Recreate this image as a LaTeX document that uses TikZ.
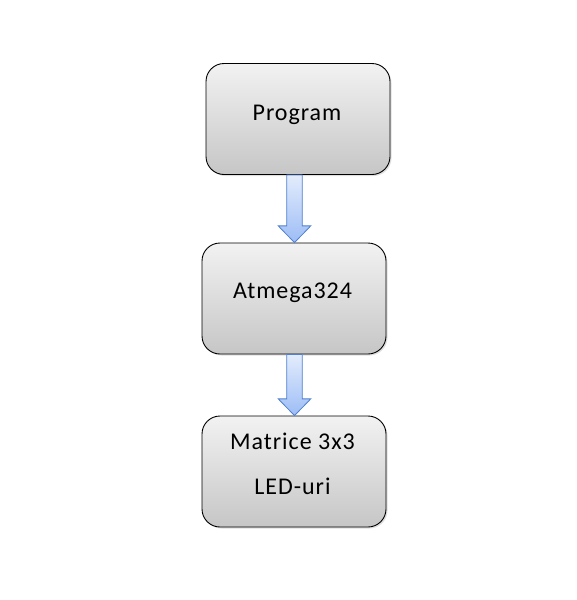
\documentclass[tikz,border=0pt]{standalone}
\usepackage{fontspec}
\setmainfont{Carlito}[LetterSpace=4]
\usetikzlibrary{calc,shadows}
\definecolor{boxtop}{HTML}{F2F2F2}
\definecolor{boxbot}{HTML}{C6C6C6}
\definecolor{arrtop}{HTML}{E3ECFC}
\definecolor{arrbot}{HTML}{9DBDF6}
\definecolor{arrline}{HTML}{4F81D0}
\tikzset{
  x=1pt,y=1pt,
  blockbox/.style={draw=black, line width=0.9pt, rounded corners=18pt,
    minimum width=184pt, minimum height=111pt, top color=boxtop, bottom color=boxbot,
    drop shadow={opacity=0.25, shadow xshift=1.5pt, shadow yshift=-1.5pt}},
  lbl/.style={font=\fontsize{24}{29}\selectfont, inner sep=0pt, anchor=base},
  blockarrow/.style={draw=arrline, line width=0.8pt, top color=arrtop, bottom color=arrbot},
}
\newcommand{\fatarrow}[3]{%
  \path[blockarrow] let \p1=(#1), \p2=(#2) in
    (#3-7.8,\y1) -- (#3+7.8,\y1) -- (#3+7.8,\y2+16.7) -- (#3+16.3,\y2+16.7)
    -- (#3,\y2) -- (#3-16.3,\y2+16.7) -- (#3-7.8,\y2+16.7) -- cycle;}
\begin{document}
\begin{tikzpicture}
\useasboundingbox[fill=white] (0,0) rectangle (576,-600);
\node[blockbox] (b1) at (298,-119) {};
\node[blockbox] (b2) at (294,-298.5) {};
\node[blockbox] (b3) at (294,-471.5) {};
\node[lbl] (t1) at (297,-120.5) {Program};
\node[lbl] (t2) at (292.5,-298.3) {Atmega324};
\node[lbl] (t3) at (292.5,-449.3) {Matrice 3x3};
\node[lbl] (t4) at (292.5,-494.3) {LED-uri};
\fatarrow{b1.south}{b2.north}{294.5}
\fatarrow{b2.south}{b3.north}{294.5}
\end{tikzpicture}
\end{document}
